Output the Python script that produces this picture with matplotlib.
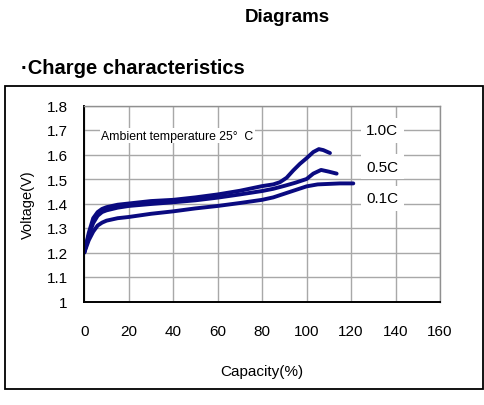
import matplotlib
matplotlib.use("Agg")
import matplotlib.pyplot as plt
from matplotlib.patches import Rectangle

plt.rcParams['font.family'] = ['Liberation Sans', 'DejaVu Sans']

cap_10 = [0, 2, 4, 6, 8, 10, 15, 20, 30, 40, 50, 60, 70, 80, 85, 88, 91, 94, 97, 100, 103, 105.5, 107.5, 110.5]
v_10 = [1.20, 1.28, 1.34, 1.365, 1.378, 1.385, 1.395, 1.40, 1.41, 1.415, 1.425, 1.437, 1.452, 1.471, 1.478, 1.487,
        1.505, 1.535, 1.562, 1.585, 1.61, 1.622, 1.618, 1.606]
cap_05 = [0, 2, 4, 6, 8, 10, 15, 20, 30, 40, 50, 60, 70, 80, 85, 90, 95, 100, 103, 106.5, 110, 113.5]
v_05 = [1.20, 1.27, 1.32, 1.35, 1.365, 1.372, 1.383, 1.39, 1.398, 1.405, 1.413, 1.424, 1.437, 1.451, 1.46, 1.472,
        1.485, 1.50, 1.522, 1.537, 1.53, 1.522]
cap_01 = [0, 2, 4, 6, 8, 10, 15, 20, 30, 40, 50, 60, 70, 80, 85, 90, 95, 100, 105, 110, 115, 121]
v_01 = [1.20, 1.25, 1.285, 1.31, 1.322, 1.33, 1.34, 1.345, 1.358, 1.368, 1.38, 1.39, 1.402, 1.415, 1.425, 1.44,
        1.455, 1.47, 1.478, 1.48, 1.482, 1.482]

series_labels = ["1.0C", "0.5C", "0.1C"]
label_y = [1.70, 1.549, 1.422]
x_ticks = [0, 20, 40, 60, 80, 100, 120, 140, 160]
y_ticks = [1, 1.1, 1.2, 1.3, 1.4, 1.5, 1.6, 1.7, 1.8]
y_ticklabels = ["1", "1.1", "1.2", "1.3", "1.4", "1.5", "1.6", "1.7", "1.8"]

W, H = 485, 406
fig = plt.figure(figsize=(W / 100, H / 100), dpi=100)

# outer frame
fig.patches.append(Rectangle((5 / W, 1 - 390 / H), 478 / W, 303 / H, transform=fig.transFigure,
                             fill=False, edgecolor='black', linewidth=1.3))
fig.text(287 / W, 1 - 18 / H, "Diagrams", ha='center', va='center', fontsize=13.5, fontweight='bold')
fig.text(21 / W, 1 - 68 / H, "\u00b7Charge characteristics", ha='left', va='center', fontsize=14.5,
         fontweight='bold')

ax = fig.add_axes([84.3 / W, 1 - 302.5 / H, (440 - 84.3) / W, 196 / H])
ax.set_xlim(0, 160)
ax.set_ylim(1, 1.8)
ax.set_xticks(x_ticks)
ax.set_yticks(y_ticks)
ax.set_yticklabels(y_ticklabels)
ax.grid(True, color='#a8a8a8', linewidth=1.0)
ax.set_axisbelow(True)
ax.tick_params(length=0, labelsize=11, pad=12)
ax.tick_params(axis='x', pad=16)
for s in ['top', 'right']:
    ax.spines[s].set_color('#909090')
    ax.spines[s].set_linewidth(1.0)
for s in ['left', 'bottom']:
    ax.spines[s].set_color('black')
    ax.spines[s].set_linewidth(1.4)

col = '#0a0a80'
for xs, ys in [(cap_10, v_10), (cap_05, v_05), (cap_01, v_01)]:
    ax.plot(xs, ys, color=col, linewidth=2.8, solid_capstyle='round', solid_joinstyle='round')

for lab, yy in zip(series_labels, label_y):
    ax.text(134, yy, lab, ha='center', va='center', fontsize=11,
            bbox=dict(facecolor='white', edgecolor='none', pad=4))

ax.text(7.5, 1.677, "Ambient temperature 25\u00b0  C", ha='left', va='center', fontsize=8.8,
        bbox=dict(facecolor='white', edgecolor='none', pad=1))

ax.set_xlabel("Capacity(%)", fontsize=11, labelpad=19)
ax.set_ylabel("Voltage(V)", fontsize=10.5, labelpad=8)

fig.savefig("out.png", dpi=100)
